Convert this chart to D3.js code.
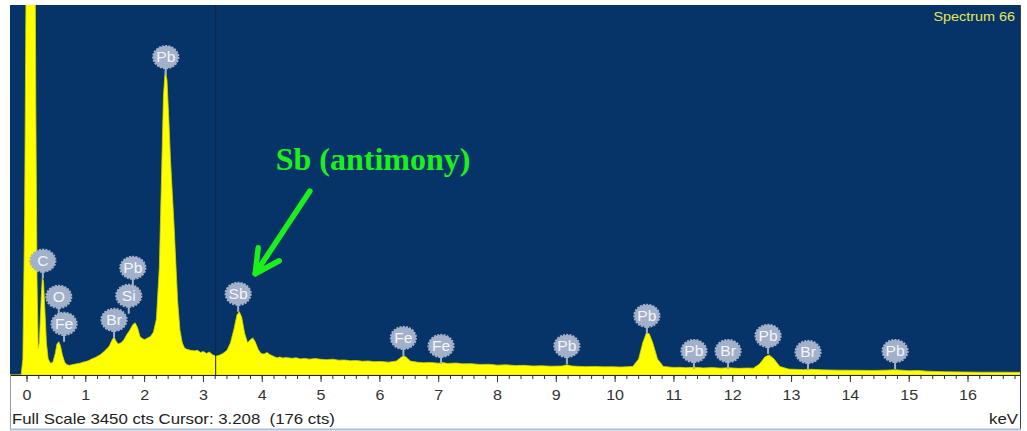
<!DOCTYPE html>
<html>
<head>
<meta charset="utf-8">
<script src="https://cdn.jsdelivr.net/npm/d3@7"></script>
<style>
  html, body { margin: 0; padding: 0; background: #fff; }
  svg { display: block; }
</style>
</head>
<body>
<div id="chart"></div>
<script>
// spectrum (keV, counts)
const energy = [-0.29, -0.10, -0.07, -0.04, -0.01, 0.02, 0.08, 0.13, 0.15, 0.17, 0.19, 0.21, 0.24, 0.26, 0.28, 0.30, 0.33, 0.36, 0.40, 0.44,
  0.48, 0.51, 0.54, 0.57, 0.60, 0.64, 0.68, 0.72, 0.76, 0.80, 0.85, 0.90, 0.95, 1.00, 1.05, 1.10, 1.15, 1.20, 1.25, 1.30,
  1.35, 1.40, 1.45, 1.48, 1.51, 1.55, 1.60, 1.65, 1.70, 1.75, 1.80, 1.84, 1.88, 1.92, 1.96, 2.00, 2.05, 2.10, 2.15, 2.20,
  2.25, 2.29, 2.32, 2.35, 2.38, 2.41, 2.44, 2.47, 2.50, 2.53, 2.56, 2.60, 2.64, 2.68, 2.72, 2.78, 2.84, 2.90, 2.95, 3.00,
  3.05, 3.10, 3.15, 3.21, 3.27, 3.33, 3.40, 3.46, 3.52, 3.57, 3.61, 3.65, 3.70, 3.75, 3.80, 3.84, 3.88, 3.93, 3.98, 4.03,
  4.08, 4.13, 4.20, 4.25, 4.30, 4.35, 4.40, 4.50, 4.58, 4.65, 4.72, 4.80, 4.90, 5.00, 5.10, 5.20, 5.30, 5.40, 5.50, 5.60,
  5.70, 5.80, 5.90, 6.00, 6.15, 6.28, 6.36, 6.40, 6.44, 6.52, 6.65, 6.75, 6.85, 7.00, 7.06, 7.15, 7.30, 7.40, 7.55, 7.70,
  7.85, 8.00, 8.15, 8.30, 8.45, 8.60, 8.75, 8.90, 9.10, 9.18, 9.26, 9.40, 9.50, 9.65, 9.80, 9.95, 10.10, 10.30, 10.40, 10.47,
  10.53, 10.58, 10.64, 10.72, 10.82, 11.00, 11.10, 11.20, 11.35, 11.50, 11.65, 11.80, 11.92, 12.10, 12.25, 12.35, 12.45, 12.55, 12.62, 12.70,
  12.80, 12.95, 13.10, 13.20, 13.35, 13.50, 13.80, 14.10, 14.40, 14.60, 14.76, 15.00, 15.15, 15.30, 15.60, 15.90, 16.20, 16.50, 16.89];
const counts = [0, 0, 150, 1500, 4200, 5000, 6000, 5000, 2500, 900, 250, 300, 700, 900, 880, 650, 300, 150, 110, 120,
  200, 290, 310, 270, 190, 120, 95, 90, 95, 100, 105, 110, 120, 125, 135, 150, 160, 175, 190, 215,
  240, 270, 330, 355, 320, 290, 300, 330, 380, 420, 470, 486, 440, 360, 340, 330, 345, 360, 400, 520,
  1000, 1900, 2600, 2840, 2750, 2400, 2000, 1700, 1400, 1050, 700, 420, 300, 250, 240, 230, 225, 230, 210, 220,
  200, 215, 190, 176, 185, 200, 230, 300, 430, 560, 590, 540, 390, 300, 330, 346, 310, 240, 200, 195,
  210, 190, 172, 160, 168, 158, 163, 156, 160, 150, 155, 148, 153, 146, 142, 148, 138, 140, 133, 136,
  128, 131, 124, 126, 120, 130, 165, 178, 170, 130, 118, 114, 117, 110, 116, 108, 112, 104, 106, 98,
  100, 92, 95, 88, 90, 84, 86, 82, 84, 95, 84, 80, 78, 80, 76, 77, 74, 80, 150, 300,
  390, 385, 300, 150, 80, 70, 72, 68, 72, 66, 69, 64, 68, 62, 65, 64, 100, 170, 187, 150,
  80, 55, 52, 50, 53, 48, 45, 44, 42, 45, 48, 40, 42, 36, 30, 28, 26, 26, 25];

// element markers: label, energy, count level of the badge centre
const markerEl = ['C', 'O', 'Fe', 'Br', 'Si', 'Pb', 'Pb', 'Sb', 'Fe', 'Fe', 'Pb', 'Pb', 'Pb', 'Br', 'Pb', 'Br', 'Pb'];
const markerKeV = [0.27, 0.54, 0.63, 1.48, 1.73, 1.80, 2.36, 3.59, 6.40, 7.04, 9.18, 10.54, 11.34, 11.92, 12.60, 13.28, 14.76];
const markerCts = [1066, 729, 477, 514, 739, 1000, 2964, 757, 346, 271, 271, 552, 224, 224, 365, 215, 224];

const majorTicks = d3.range(0, 17);
const minorTicks = d3.range(0, 85).map(i => i * 0.2).filter(v => v <= 16.9);

const fullScale = 3450;
const cursorKeV = 3.208;
const cursorCts = 176;

const width = 1027, height = 431;
const plotL = 10, plotR = 1020, plotT = 5, plotB = 375;
const stretch = 1.2;

const svg = d3.select('#chart').append('svg')
  .attr('width', width)
  .attr('height', height);

const x = d3.scaleLinear().domain([0, 16]).range([27, 968]);
const y = d3.scaleLinear().domain([0, fullScale]).range([plotB, plotT]);

svg.append('defs').append('clipPath').attr('id', 'plot')
  .append('rect').attr('x', plotL).attr('y', plotT).attr('width', plotR - plotL).attr('height', plotB - plotT);

// plot background
svg.append('rect')
  .attr('x', plotL).attr('y', plotT)
  .attr('width', plotR - plotL).attr('height', plotB - plotT)
  .attr('fill', '#063468');

const spectrum = energy.map((e, i) => [e, counts[i]]);

const area = d3.area()
  .x(d => x(d[0]))
  .y0(plotB)
  .y1(d => y(d[1]));

const g = svg.append('g').attr('clip-path', 'url(#plot)');

g.append('path')
  .datum(spectrum)
  .attr('d', area)
  .attr('fill', '#ffff00')
  .attr('stroke', '#d4d400')
  .attr('stroke-width', 0.8);

// cursor line
g.append('line')
  .attr('x1', x(cursorKeV)).attr('x2', x(cursorKeV))
  .attr('y1', plotT).attr('y2', plotB)
  .attr('stroke', '#1b2230')
  .attr('stroke-width', 1);

// markers
const markers = markerEl.map((el, i) => ({ el, kev: markerKeV[i], cts: markerCts[i] }));
const mk = g.selectAll('.marker')
  .data(markers)
  .enter().append('g')
  .attr('class', 'marker')
  .attr('transform', d => `translate(${x(d.kev)},${y(d.cts)})`);

mk.append('line')
  .attr('x1', 0).attr('x2', 0)
  .attr('y1', 10).attr('y2', 18)
  .attr('stroke', '#a3b0c9')
  .attr('stroke-width', 2);

mk.append('ellipse')
  .attr('rx', 12.5).attr('ry', 11)
  .attr('fill', '#a3b0c9')
  .attr('stroke', '#a3b0c9')
  .attr('stroke-width', 2.2)
  .attr('stroke-dasharray', '2 1.2');

mk.append('text')
  .attr('transform', `scale(1.12,1)`)
  .attr('text-anchor', 'middle')
  .attr('y', 5)
  .attr('font-family', 'Liberation Sans, Arial, sans-serif')
  .attr('font-size', 14)
  .attr('fill', '#f2f5fa')
  .text(d => d.el);

// title in the corner
svg.append('text')
  .attr('transform', `translate(${plotR - 5},21) scale(${stretch},1)`)
  .attr('text-anchor', 'end')
  .attr('font-family', 'Liberation Sans, Arial, sans-serif')
  .attr('font-size', 12)
  .attr('fill', '#e6e65a')
  .text('Spectrum 66');

// annotation
const note = svg.append('g').attr('fill', '#1cf01c').attr('stroke', '#1cf01c');
note.append('text')
  .attr('x', x(4.23)).attr('y', y(1907))
  .attr('stroke', 'none')
  .attr('font-family', 'Liberation Serif, Times New Roman, serif')
  .attr('font-weight', 'bold')
  .attr('font-size', 32)
  .text('Sb (antimony)');

const tip = [x(3.88), y(944)];
note.append('line')
  .attr('x1', x(4.81)).attr('y1', y(1715))
  .attr('x2', tip[0]).attr('y2', tip[1])
  .attr('stroke-width', 5.5)
  .attr('stroke-linecap', 'round');
note.append('polyline')
  .attr('points', [[tip[0] + 3, tip[1] - 26], tip, [tip[0] + 24, tip[1] - 13]].map(p => p.join(',')).join(' '))
  .attr('fill', 'none')
  .attr('stroke-width', 5.5)
  .attr('stroke-linecap', 'round')
  .attr('stroke-linejoin', 'round');

// axis panel
svg.append('rect')
  .attr('x', plotL).attr('y', plotB)
  .attr('width', plotR - plotL).attr('height', 53)
  .attr('fill', '#fff');

const axis = svg.append('g').attr('transform', `translate(0,${plotB})`);
axis.selectAll('.minor')
  .data(minorTicks)
  .enter().append('line')
  .attr('x1', d => x(d)).attr('x2', d => x(d))
  .attr('y1', 0).attr('y2', 4)
  .attr('stroke', '#333');
axis.selectAll('.major')
  .data(majorTicks)
  .enter().append('line')
  .attr('x1', d => x(d)).attr('x2', d => x(d))
  .attr('y1', 0).attr('y2', 7)
  .attr('stroke', '#333');
axis.selectAll('.lbl')
  .data(majorTicks)
  .enter().append('text')
  .attr('transform', d => `translate(${x(d)},25) scale(1.15,1)`)
  .attr('text-anchor', 'middle')
  .attr('font-family', 'Liberation Sans, Arial, sans-serif')
  .attr('font-size', 14)
  .attr('fill', '#333')
  .text(d => d);
axis.append('line')
  .attr('x1', plotL).attr('x2', plotR)
  .attr('y1', 0.5).attr('y2', 0.5)
  .attr('stroke', '#222');

svg.append('text')
  .attr('transform', `translate(12,424) scale(${stretch},1)`)
  .attr('font-family', 'Liberation Sans, Arial, sans-serif')
  .attr('font-size', 14)
  .attr('fill', '#222')
  .attr('xml:space', 'preserve')
  .text(`Full Scale ${fullScale} cts Cursor: ${cursorKeV.toFixed(3)}  (${cursorCts} cts)`);

svg.append('text')
  .attr('transform', `translate(${plotR - 2},424) scale(${stretch},1)`)
  .attr('text-anchor', 'end')
  .attr('font-family', 'Liberation Sans, Arial, sans-serif')
  .attr('font-size', 14)
  .attr('fill', '#222')
  .text('keV');

// frame lines
svg.append('line').attr('x1', plotL + 0.5).attr('x2', plotL + 0.5).attr('y1', plotB).attr('y2', 429).attr('stroke', '#9a9a9a');
svg.append('line').attr('x1', plotR + 0.5).attr('x2', plotR + 0.5).attr('y1', plotT).attr('y2', 429).attr('stroke', '#3a4250');
svg.append('line').attr('x1', plotL).attr('x2', plotR + 1).attr('y1', 429.5).attr('y2', 429.5).attr('stroke', '#aebfd6').attr('stroke-width', 2);
</script>
</body>
</html>
